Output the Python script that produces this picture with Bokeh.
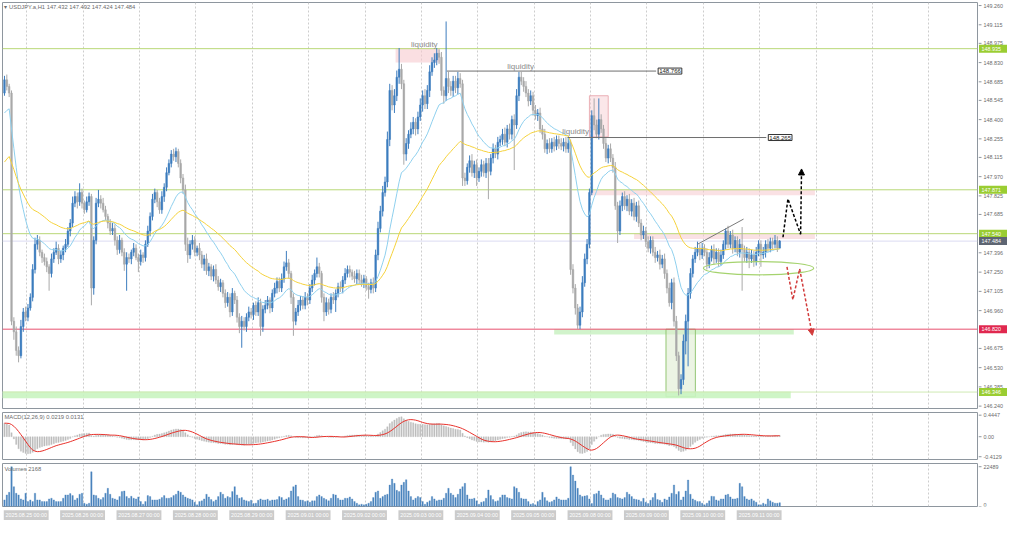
from bokeh.plotting import figure
from bokeh.layouts import column, row
from bokeh.models import (ColumnDataSource, Range1d, FixedTicker, Grid,
                          Span, BoxAnnotation, Label, Arrow, NormalHead)
from bokeh.core.properties import value
from bokeh.embed import file_html
from bokeh.resources import INLINE

# ---------------- data (USDJPY.a, H1) ----------------
FIRST_OPEN = 148.60
CLOSE = [
    148.70, 148.65, 148.60, 146.88, 146.80, 146.66, 146.62, 146.84, 146.95, 146.91, 146.98, 147.06,
    147.27, 147.46, 147.49, 147.40, 147.36, 147.33, 147.29, 147.24, 147.35, 147.40, 147.43, 147.35,
    147.38, 147.43, 147.46, 147.56, 147.62, 147.77, 147.82, 147.78, 147.85, 147.77, 147.72, 147.78,
    147.82, 147.13, 147.49, 147.77, 147.80, 147.77, 147.72, 147.67, 147.62, 147.56, 147.58, 147.49,
    147.42, 147.49, 147.40, 147.31, 147.36, 147.35, 147.40, 147.43, 147.36, 147.33, 147.38, 147.36,
    147.46, 147.56, 147.67, 147.80, 147.85, 147.78, 147.72, 147.82, 147.89, 148.00, 148.07, 148.14,
    148.12, 148.16, 148.07, 147.96, 147.87, 147.46, 147.38, 147.46, 147.49, 147.40, 147.43, 147.38,
    147.31, 147.35, 147.26, 147.29, 147.22, 147.27, 147.19, 147.14, 147.17, 147.09, 147.02, 147.06,
    146.95, 147.09, 147.04, 146.91, 146.84, 146.88, 146.84, 146.91, 146.95, 146.93, 147.00, 146.95,
    147.02, 146.84, 146.97, 147.00, 147.04, 146.98, 147.09, 147.13, 147.18, 147.13, 147.20, 147.29,
    147.32, 147.24, 147.06, 146.88, 146.95, 147.00, 147.04, 147.00, 147.06, 147.04, 147.13, 147.19,
    147.24, 147.29, 147.24, 147.06, 146.95, 147.02, 146.97, 147.06, 147.04, 147.09, 147.14, 147.13,
    147.19, 147.24, 147.27, 147.25, 147.22, 147.20, 147.24, 147.19, 147.17, 147.20, 147.14, 147.12,
    147.17, 147.13, 147.38, 147.58, 147.71, 147.85, 147.93, 148.25, 148.62, 148.51, 148.58, 148.72,
    148.78, 148.67, 148.14, 148.22, 148.29, 148.33, 148.38, 148.33, 148.42, 148.51, 148.58, 148.52,
    148.62, 148.76, 148.83, 148.85, 148.90, 148.87, 148.62, 148.58, 148.71, 148.65, 148.62, 148.69,
    148.64, 148.71, 148.67, 147.96, 147.94, 148.04, 148.09, 148.00, 148.06, 147.96, 148.01, 148.06,
    148.00, 148.07, 148.01, 148.11, 148.18, 148.14, 148.23, 148.25, 148.29, 148.23, 148.33, 148.29,
    148.40, 148.36, 148.58, 148.72, 148.69, 148.65, 148.60, 148.54, 148.58, 148.47, 148.43, 148.45,
    148.33, 148.29, 148.18, 148.22, 148.18, 148.23, 148.20, 148.25, 148.22, 148.20, 148.23, 148.18,
    148.22, 147.27, 147.13, 146.98, 146.85, 146.95, 147.17, 147.35, 147.46, 147.85, 148.43, 148.36,
    148.29, 148.40, 148.33, 148.22, 148.11, 148.18, 148.11, 148.04, 147.75, 147.56, 147.75, 147.82,
    147.75, 147.80, 147.71, 147.77, 147.67, 147.75, 147.62, 147.53, 147.56, 147.48, 147.43, 147.49,
    147.40, 147.36, 147.38, 147.31, 147.35, 147.24, 147.13, 147.02, 147.17, 146.88, 146.62, 146.37,
    146.44, 146.73, 146.88, 147.09, 147.24, 147.35, 147.40, 147.43, 147.38, 147.43, 147.40, 147.31,
    147.36, 147.42, 147.35, 147.40, 147.33, 147.38, 147.46, 147.56, 147.46, 147.53, 147.43, 147.49,
    147.40, 147.46, 147.42, 147.36, 147.40, 147.35, 147.38, 147.33, 147.40, 147.46, 147.38, 147.40,
    147.46, 147.43, 147.48, 147.46, 147.49, 147.432, 147.484,
]
# wick lengths beyond the body, in 0.01 JPY
UPPER_WICK = [
    3, 4, 2, 2, 3, 4, 3, 5, 3, 4, 3, 3, 4, 5, 4, 3, 2, 3, 3, 2, 4, 3, 5, 3,
    3, 2, 4, 3, 3, 5, 4, 3, 7, 3, 2, 4, 3, 2, 3, 4, 7, 3, 4, 3, 2, 3, 4, 3,
    3, 4, 2, 3, 4, 3, 2, 4, 3, 3, 4, 2, 3, 4, 3, 4, 3, 2, 3, 4, 3, 4, 3, 3,
    4, 3, 2, 3, 3, 4, 5, 3, 4, 3, 2, 4, 3, 3, 4, 3, 2, 3, 4, 3, 3, 2, 3, 4,
    3, 4, 2, 3, 3, 4, 3, 3, 4, 3, 2, 3, 4, 3, 3, 4, 3, 2, 3, 4, 3, 3, 4, 4,
    9, 3, 2, 3, 3, 4, 3, 3, 4, 3, 3, 4, 3, 7, 3, 2, 3, 4, 3, 3, 4, 3, 3, 4,
    3, 4, 3, 3, 2, 4, 3, 3, 4, 3, 2, 3, 3, 4, 4, 5, 4, 5, 4, 6, 5, 4, 5, 5,
    16, 4, 3, 4, 3, 5, 4, 3, 4, 5, 4, 5, 4, 5, 4, 5, 4, 3, 4, 3, 43, 5, 4, 4,
    4, 5, 4, 3, 4, 3, 4, 5, 3, 4, 3, 4, 3, 4, 4, 3, 4, 3, 4, 3, 4, 5, 3, 4,
    3, 4, 5, 4, 4, 3, 4, 3, 4, 3, 4, 3, 4, 3, 4, 3, 4, 3, 4, 3, 3, 4, 3, 4,
    5, 3, 4, 3, 3, 4, 5, 4, 4, 3, 4, 13, 4, 16, 4, 3, 4, 3, 4, 3, 4, 3, 4, 3,
    4, 3, 4, 3, 4, 3, 4, 3, 4, 3, 4, 3, 3, 4, 3, 4, 3, 4, 3, 4, 3, 4, 4, 3,
    4, 5, 5, 4, 4, 3, 4, 5, 3, 4, 3, 3, 4, 3, 4, 3, 3, 4, 3, 2, 4, 3, 4, 3,
    3, 4, 13, 3, 4, 3, 4, 3, 4, 3, 3, 4, 3, 4, 3, 3, 4, 3, 0.8,
]
LOWER_WICK = [
    2, 3, 3, 3, 6, 4, 5, 2, 4, 3, 3, 2, 3, 3, 4, 3, 4, 3, 4, 13, 3, 3, 2, 4,
    3, 4, 3, 2, 4, 3, 3, 5, 3, 4, 3, 2, 3, 13, 5, 3, 3, 4, 2, 3, 4, 3, 3, 4,
    4, 3, 3, 5, 20, 3, 4, 3, 2, 8, 3, 4, 3, 2, 4, 3, 3, 4, 3, 3, 4, 3, 2, 3,
    3, 4, 3, 4, 3, 5, 6, 3, 4, 3, 3, 4, 3, 5, 3, 4, 3, 4, 3, 3, 4, 3, 4, 3,
    4, 3, 3, 4, 5, 16, 3, 4, 3, 3, 4, 3, 3, 7, 4, 3, 3, 4, 3, 3, 4, 3, 3, 3,
    3, 4, 5, 11, 3, 3, 4, 3, 3, 4, 3, 3, 4, 3, 3, 4, 7, 3, 4, 3, 3, 9, 3, 3,
    4, 3, 3, 4, 3, 3, 4, 3, 3, 4, 3, 7, 3, 4, 3, 4, 3, 4, 3, 4, 5, 4, 6, 4,
    5, 4, 8, 5, 4, 3, 4, 5, 4, 3, 5, 4, 4, 5, 3, 4, 4, 5, 4, 6, 4, 5, 4, 5,
    4, 5, 3, 6, 4, 3, 4, 3, 4, 6, 3, 4, 3, 4, 21, 3, 4, 3, 4, 3, 4, 3, 4, 4,
    4, 34, 3, 4, 3, 4, 3, 4, 3, 4, 3, 4, 3, 4, 3, 4, 3, 3, 4, 3, 4, 3, 4, 3,
    3, 4, 4, 5, 3, 3, 4, 3, 4, 3, 2, 4, 3, 4, 3, 4, 3, 4, 3, 4, 3, 9, 3, 4,
    3, 4, 3, 4, 3, 4, 3, 4, 3, 4, 3, 4, 3, 4, 3, 4, 3, 4, 4, 3, 5, 4, 4, 5,
    4, 4, 10, 34, 4, 3, 3, 3, 4, 3, 3, 4, 3, 3, 4, 3, 4, 3, 3, 4, 3, 3, 4, 3,
    3, 4, 31, 3, 4, 7, 3, 4, 3, 3, 9, 3, 4, 3, 3, 4, 3, 3, 0.8,
]
VOLUME = [
    3740, 6545, 8000, 22489, 11220, 7480, 6545, 4300, 3740, 7480, 2805, 3740, 2805, 7480, 3740, 3740, 2805, 2805, 2805, 4300, 4675, 3740, 2805, 2805,
    2805, 4675, 6545, 6545, 7290, 6170, 3740, 4675, 6920, 7480, 1870, 1310, 1870, 19635, 6545, 6170, 4675, 3930, 5050, 7480, 10285, 6920, 4675, 4300,
    3740, 5610, 8415, 8790, 5610, 4675, 5800, 4675, 4300, 5420, 2805, 1310, 2805, 6170, 5610, 3740, 3740, 3740, 4115, 5050, 6170, 4675, 4675, 5050,
    6170, 6920, 8790, 8040, 6545, 5420, 4675, 4300, 3740, 2430, 935, 2805, 3180, 4300, 6920, 5420, 3930, 2805, 3740, 5610, 8040, 6920, 4675, 5610,
    5050, 8415, 11220, 6545, 4675, 5050, 3740, 3180, 2805, 3550, 1680, 1870, 3550, 4300, 3740, 3740, 4115, 3180, 3740, 3740, 3930, 5610, 5050, 3740,
    4300, 5050, 8790, 11220, 12155, 5610, 3740, 3550, 2805, 3180, 2430, 3180, 3180, 5610, 6545, 5610, 4675, 3930, 3180, 4675, 6920, 6545, 4675, 3740,
    3740, 4675, 4675, 5420, 4300, 2805, 1870, 935, 1310, 935, 1310, 1870, 2805, 5050, 8040, 8790, 4675, 5610, 6545, 6920, 12155, 15520, 13090, 9160,
    8415, 12155, 13650, 15150, 8790, 5610, 3740, 4675, 5610, 5050, 2805, 1310, 2430, 3180, 5610, 4300, 3180, 3740, 3740, 4675, 7480, 10285, 7480, 6545,
    5050, 6920, 9910, 11220, 13090, 6545, 4300, 4300, 4675, 3180, 1310, 2430, 2805, 4675, 9350, 6170, 3930, 2805, 3180, 5050, 6545, 6545, 5050, 4675,
    4300, 11220, 10285, 8040, 4675, 4300, 4300, 2805, 1310, 1680, 935, 2805, 3740, 8040, 5050, 3180, 2430, 2805, 3740, 5420, 4300, 3740, 3740, 3740,
    4675, 22489, 17765, 14400, 10285, 6545, 5610, 5985, 6170, 4300, 1680, 6920, 7290, 8790, 6545, 4675, 3740, 3740, 4675, 7670, 6920, 5050, 4675, 4300,
    5050, 8040, 6920, 5610, 4300, 3930, 3740, 2805, 4675, 2430, 1680, 3550, 5050, 7480, 3930, 3550, 2430, 4300, 3740, 5420, 7480, 12155, 6920, 8415,
    3740, 5420, 8790, 14960, 6920, 4300, 3550, 2805, 2805, 1870, 935, 1870, 3180, 5800, 5610, 3740, 3180, 4300, 4300, 6545, 6920, 5420, 4300, 4300,
    4675, 13090, 11220, 5610, 4300, 3740, 4300, 3180, 2430, 935, 935, 1870, 1310, 4300, 3180, 2430, 1870, 1870, 2168,
]
DATES = ["2025.08.25", "2025.08.26", "2025.08.27", "2025.08.28", "2025.08.29", "2025.09.01", "2025.09.02",
         "2025.09.03", "2025.09.04", "2025.09.05", "2025.09.08", "2025.09.09", "2025.09.10", "2025.09.11"]
BARS_PER_DAY = 24
PRICE_TICKS = [149.260, 149.115, 148.975, 148.830, 148.685, 148.545, 148.400, 148.255, 148.115, 147.970,
               147.825, 147.685, 147.396, 147.250, 147.105, 146.960, 146.675, 146.530, 146.385, 146.240]
MACD_TICKS = [0.4447, 0.0, -0.4129]
MACD_TICK_LABELS = ["0.4447", "0.00", "-0.4129"]
VOLUME_TICKS = [22489, 0]
# moving-average / MACD values at the first bar
MA_FAST_START, MA_SLOW_START = 148.45, 148.08
EMA12_START, EMA26_START = 148.62, 148.34
HEADER = "\u25be USDJPY.a,H1  147.432 147.492 147.424 147.484"
MACD_TITLE = "MACD(12,26,9) 0.0219 0.0131"
VOL_TITLE = "Volumes 2168"

# horizontal levels: price, colour
LEVELS = [(148.935, "#B9D877"), (147.871, "#B9D877"), (147.540, "#B9D877"),
          (146.820, "#E8506E"), (146.346, "#CFEAB3"), (147.484, "#DCDCF2")]
# price tags on the axis: price, text, colour
TAGS = [(148.935, "148.935", "#9ACD32"), (147.871, "147.871", "#9ACD32"), (147.540, "147.540", "#9ACD32"),
        (147.484, "147.484", "#5E6572"), (146.820, "146.820", "#E0284F"), (146.346, "146.346", "#9ACD32")]
# zones: left bar, right bar, low price, high price, fill, alpha, outline
ZONES = [(166.5, 185.4, 148.83, 148.94, "#F6C9CE", 0.6, None),
         (249.0, 257.0, 148.27, 148.58, "#F6C9CE", 0.45, "#EBB0B6"),
         (249.0, 345.0, 147.83, 147.87, "#F6C9CE", 0.55, None),
         (268.0, 345.0, 147.50, 147.54, "#F6C9CE", 0.55, None),
         (234.0, 336.0, 146.78, 146.82, "#C6F0BE", 0.8, None),
         (281.6, 294.1, 146.31, 146.82, "#DCEBCD", 0.55, "#94C674"),
         (-1.0, 334.7, 146.30, 146.35, "#C9F4C0", 0.9, None)]
# liquidity lines: start bar, end bar, price
LIQ_LINES = [(188.3, 277.4, 148.766), (239.7, 324.3, 148.265)]
LIQ_TEXT = [(178.7, 148.97), (219.7, 148.80), (243.1, 148.31)]
TREND_X, TREND_Y = [295.0, 314.6], [147.46, 147.65]
ELLIPSE = (321.0, 147.28, 46.9, 0.10)
UP_PATH_X, UP_PATH_Y = [331.4, 333.5, 338.9, 339.3], [147.513, 147.803, 147.535, 148.028]
DN_PATH_X, DN_PATH_Y = [333.1, 335.6, 338.5, 343.9], [147.289, 147.042, 147.274, 146.774]

assert len(CLOSE) == len(UPPER_WICK) == len(LOWER_WICK) == len(VOLUME)
N = len(CLOSE)
IDX = list(range(N))
OPEN = [FIRST_OPEN] + CLOSE[:-1]
HIGH = [max(o, c) + u / 100 for o, c, u in zip(OPEN, CLOSE, UPPER_WICK)]
LOW = [min(o, c) - d / 100 for o, c, d in zip(OPEN, CLOSE, LOWER_WICK)]


def ema(vals, period, start):
    a = 2.0 / (period + 1)
    out = [start]
    for v in vals[1:]:
        out.append(out[-1] + a * (v - out[-1]))
    return out


MA_FAST = ema(CLOSE, 20, MA_FAST_START)
MA_SLOW = ema(CLOSE, 50, MA_SLOW_START)
MACD = [a - b for a, b in zip(ema(CLOSE, 12, EMA12_START), ema(CLOSE, 26, EMA26_START))]
SIGNAL = []
for i in range(N):
    win = MACD[max(0, i - 8): i + 1]
    win = [MACD[0]] * (9 - len(win)) + win
    SIGNAL.append(sum(win) / 9.0)

# ---------------- styling ----------------
FONT = "Liberation Sans"
MAIN_W, STRIP_W = 978, 30
BULL, BEAR = "#3D7DBE", "#A9A9A9"
FRAME = "#8E969E"
LABEL_GREY = "#6B6B6B"
XR = Range1d(-0.84, 414.2)
GRID_X = [9.5 + BARS_PER_DAY * k for k in range(18)]


def make_fig(h, yr, top, bottom):
    p = figure(width=MAIN_W, height=h, x_range=XR, y_range=yr,
               output_backend="svg", toolbar_location=None,
               x_axis_location=None, y_axis_location=None,
               min_border_left=2, min_border_right=1, min_border_top=top, min_border_bottom=bottom,
               outline_line_color=FRAME, outline_line_width=1,
               background_fill_color="white", border_fill_color="white")
    p.grid.visible = False
    p.add_layout(Grid(dimension=0, ticker=FixedTicker(ticks=GRID_X), grid_line_color="#CDCDCD",
                      grid_line_dash="2 2", grid_line_width=1))
    return p


def make_scale(h, yr, top, bottom, ticks, labels, frame_h, tags=(), zero_bottom=False):
    """price-scale column to the right of a panel"""
    s = figure(width=STRIP_W, height=h, x_range=Range1d(0, STRIP_W), y_range=yr,
               output_backend="svg", toolbar_location=None,
               x_axis_location=None, y_axis_location=None,
               min_border_left=0, min_border_right=0, min_border_top=top, min_border_bottom=bottom,
               outline_line_color=None, background_fill_color="white", border_fill_color="white")
    s.grid.visible = False
    s.segment(x0=0, y0=ticks, x1=3, y1=ticks, line_color=FRAME, line_width=1)
    base = ["bottom" if (zero_bottom and t == 0) else "middle" for t in ticks]
    s.text(x=5, y=ticks, text=labels, text_baseline=base, text_align="left",
           text_font=value(FONT), text_font_size="5.4px", text_color=LABEL_GREY)
    if tags:
        per_px = (yr.end - yr.start) / frame_h
        ys = [t[0] for t in tags]
        s.quad(left=0.5, right=28.5, bottom=[y - 4 * per_px for y in ys], top=[y + 4 * per_px for y in ys],
               fill_color=[t[2] for t in tags], line_color=None)
        s.text(x=3, y=ys, text=[t[1] for t in tags], text_baseline="middle", text_align="left",
               text_font=value(FONT), text_font_size="5.4px", text_color="white")
    return s


# ---------------- main price panel ----------------
PR = Range1d(146.222, 149.283)
pm = make_fig(410, PR, 2, 2)
sm = make_scale(410, PR, 2, 2, PRICE_TICKS, [f"{t:.3f}" for t in PRICE_TICKS], 406, TAGS)

for (l, r, b, t, fc, fa, lc) in ZONES:
    pm.add_layout(BoxAnnotation(left=l, right=r, bottom=b, top=t, fill_color=fc, fill_alpha=fa,
                                line_color=lc, line_alpha=1 if lc else 0, line_width=1, level="underlay"))
for (lv, col) in LEVELS:
    pm.add_layout(Span(location=lv, dimension="width", line_color=col, line_width=1, level="underlay"))

src = ColumnDataSource(dict(
    x=IDX, high=HIGH, low=LOW,
    top=[max(o, c) for o, c in zip(OPEN, CLOSE)],
    bottom=[min(o, c) for o, c in zip(OPEN, CLOSE)],
    color=[BULL if c >= o else BEAR for o, c in zip(OPEN, CLOSE)]))
pm.segment(x0="x", y0="low", x1="x", y1="high", line_color="color", line_width=1, source=src)
pm.vbar(x="x", width=0.7, top="top", bottom="bottom", fill_color="color", line_color="color",
        line_width=0.5, source=src)
pm.line(IDX, MA_FAST, line_color="#8FD0EE", line_width=1)
pm.line(IDX, MA_SLOW, line_color="#F5D23C", line_width=1)

for (x0, x1, y) in LIQ_LINES:
    pm.line([x0, x1], [y, y], line_color="#6E6E6E", line_width=1)
    pm.add_layout(Label(x=x1, y=y, x_offset=2, text=f"{y:.3f}", text_baseline="middle",
                        text_font=FONT, text_font_size="6px", text_color="#222222",
                        background_fill_color="white", border_line_color="#333333",
                        border_line_width=1, padding=1))
for (x, y) in LIQ_TEXT:
    pm.add_layout(Label(x=x, y=y, text="liquidity", text_align="center", text_baseline="middle",
                        text_font=FONT, text_font_size="8px", text_color="#8A8A8A"))

pm.line(TREND_X, TREND_Y, line_color="#7A7A7A", line_width=1)
ex, ey, ew, eh = ELLIPSE
pm.ellipse(x=[ex], y=[ey], width=[ew], height=[eh], fill_alpha=0, line_color="#A5D36E", line_width=1.2)

pm.line(UP_PATH_X[:-1], UP_PATH_Y[:-1], line_color="black", line_width=1.5, line_dash="3 2")
pm.add_layout(Arrow(end=NormalHead(size=6, fill_color="black", line_color="black"),
                    x_start=UP_PATH_X[-2], y_start=UP_PATH_Y[-2], x_end=UP_PATH_X[-1], y_end=UP_PATH_Y[-1],
                    line_color="black", line_width=1.5, line_dash="3 2"))
pm.line(DN_PATH_X[:-1], DN_PATH_Y[:-1], line_color="#D23B3B", line_width=1.5, line_dash="3 2")
pm.add_layout(Arrow(end=NormalHead(size=6, fill_color="#D23B3B", line_color="#D23B3B"),
                    x_start=DN_PATH_X[-2], y_start=DN_PATH_Y[-2], x_end=DN_PATH_X[-1], y_end=DN_PATH_Y[-1],
                    line_color="#D23B3B", line_width=1.5, line_dash="3 2"))

pm.add_layout(Label(x=0.0, y=149.252, text=HEADER, text_baseline="middle", text_font=FONT,
                    text_font_size="5.8px", text_color=LABEL_GREY))

# ---------------- MACD panel ----------------
MR = Range1d(-0.47, 0.50)
pd_ = make_fig(51, MR, 2, 2)
sd = make_scale(51, MR, 2, 2, MACD_TICKS, MACD_TICK_LABELS, 47)
pd_.vbar(x=IDX, width=0.55, top=MACD, bottom=0, fill_color="#BDBDBD", line_color="#BDBDBD", line_width=0.3)
pd_.line(IDX, SIGNAL, line_color="#E8312B", line_width=1)
pd_.add_layout(Label(x=0.0, y=0.41, text=MACD_TITLE, text_baseline="middle", text_font=FONT,
                     text_font_size="5.8px", text_color=LABEL_GREY))

# ---------------- volume panel ----------------
VR = Range1d(0, 24300)
pv = make_fig(47, VR, 2, 2)
sv = make_scale(47, VR, 2, 2, VOLUME_TICKS, [str(v) for v in VOLUME_TICKS], 43, zero_bottom=True)
pv.vbar(x=IDX, width=0.6, top=VOLUME, bottom=0, fill_color="#4A84BE", line_color="#4A84BE", line_width=0.3)
pv.add_layout(Label(x=0.0, y=21300, text=VOL_TITLE, text_baseline="middle", text_font=FONT,
                    text_font_size="5.8px", text_color=LABEL_GREY))

# ---------------- time scale ----------------
pt = figure(width=MAIN_W, height=13, x_range=XR, y_range=Range1d(0, 1),
            output_backend="svg", toolbar_location=None, x_axis_location=None, y_axis_location=None,
            min_border_left=2, min_border_right=1, min_border_top=0, min_border_bottom=0,
            outline_line_color=None, background_fill_color="white", border_fill_color="white")
pt.grid.visible = False
day_x = [BARS_PER_DAY * k - 0.3 for k in range(len(DATES))]
box_w = 19.1
pt.quad(left=day_x, right=[d + box_w for d in day_x], bottom=0.12, top=0.86,
        fill_color="#CBCBCB", line_color=None)
pt.text(x=[d + box_w / 2 for d in day_x], y=0.49, text=[f"{d} 00:00" for d in DATES],
        text_align="center", text_baseline="middle", text_font=value(FONT),
        text_font_size="5.3px", text_color="white")

layout = column(row(pm, sm, spacing=0), row(pd_, sd, spacing=0), row(pv, sv, spacing=0), pt,
                spacing=0)
open("out.html", "w").write(file_html(layout, INLINE))
